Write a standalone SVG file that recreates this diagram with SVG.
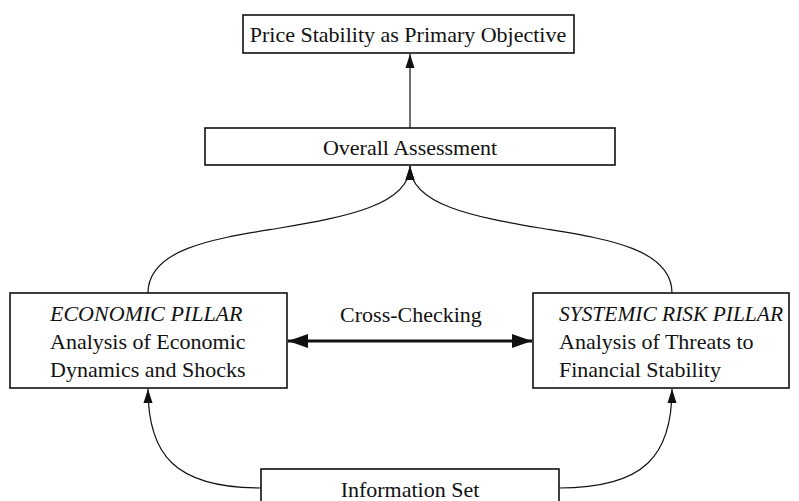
<svg xmlns="http://www.w3.org/2000/svg" width="799" height="501" viewBox="0 0 799 501">
<style>
.box{fill:#fff;stroke:#111;stroke-width:1.6}
.t{font-family:"Liberation Serif","Times New Roman",serif;font-size:22px;fill:#111}
.c{text-anchor:middle}
.i{font-style:italic}
.thin{fill:none;stroke:#111;stroke-width:1.2}
.thick{fill:none;stroke:#111;stroke-width:3}
</style>
<defs>
<marker id="ah" markerUnits="userSpaceOnUse" markerWidth="14" markerHeight="10" refX="14" refY="5" orient="auto-start-reverse"><path d="M0,0.5 L14,5 L0,9.5 z" fill="#111"/></marker>
<marker id="ahb" markerUnits="userSpaceOnUse" markerWidth="20" markerHeight="14" refX="20" refY="7" orient="auto-start-reverse"><path d="M0,0 L20,7 L0,14 z" fill="#111"/></marker>
</defs>
<g id="connectors">
<path class="thin" d="M410,128 L410,54" marker-end="url(#ah)"/>
<path class="thin" d="M148,293 C148,247 220,238 280,228 C345,217 410,205 410,166" marker-end="url(#ah)"/>
<path class="thin" d="M672,293 C672,247 600,238 540,228 C475,217 410,205 410,166" marker-end="url(#ah)"/>
<path class="thin" d="M261,488 C175,488 148,455 148,389" marker-end="url(#ah)"/>
<path class="thin" d="M559,488 C645,488 672,455 672,389" marker-end="url(#ah)"/>
<path class="thick" d="M288,341 L532,341" marker-start="url(#ahb)" marker-end="url(#ahb)"/>
<text class="t c" x="411" y="322">Cross-Checking</text>
</g>
<g id="price">
<rect class="box" x="243" y="15" width="331" height="38"/>
<text class="t c" x="408" y="42">Price Stability as Primary Objective</text>
</g>
<g id="overall">
<rect class="box" x="205" y="128" width="410" height="37"/>
<text class="t c" x="410" y="155">Overall Assessment</text>
</g>
<g id="economic">
<rect class="box" x="10" y="293" width="277" height="95"/>
<text class="t i" x="50" y="321">ECONOMIC PILLAR</text>
<text class="t" x="50" y="349">Analysis of Economic</text>
<text class="t" x="50" y="377">Dynamics and Shocks</text>
</g>
<g id="systemic">
<rect class="box" x="533" y="293" width="256" height="95"/>
<text class="t i" x="559" y="321" textLength="224" lengthAdjust="spacingAndGlyphs">SYSTEMIC RISK PILLAR</text>
<text class="t" x="559" y="349">Analysis of Threats to</text>
<text class="t" x="559" y="377">Financial Stability</text>
</g>
<g id="info">
<rect class="box" x="261" y="469" width="298" height="40"/>
<text class="t c" x="410" y="497">Information Set</text>
</g>
</svg>
